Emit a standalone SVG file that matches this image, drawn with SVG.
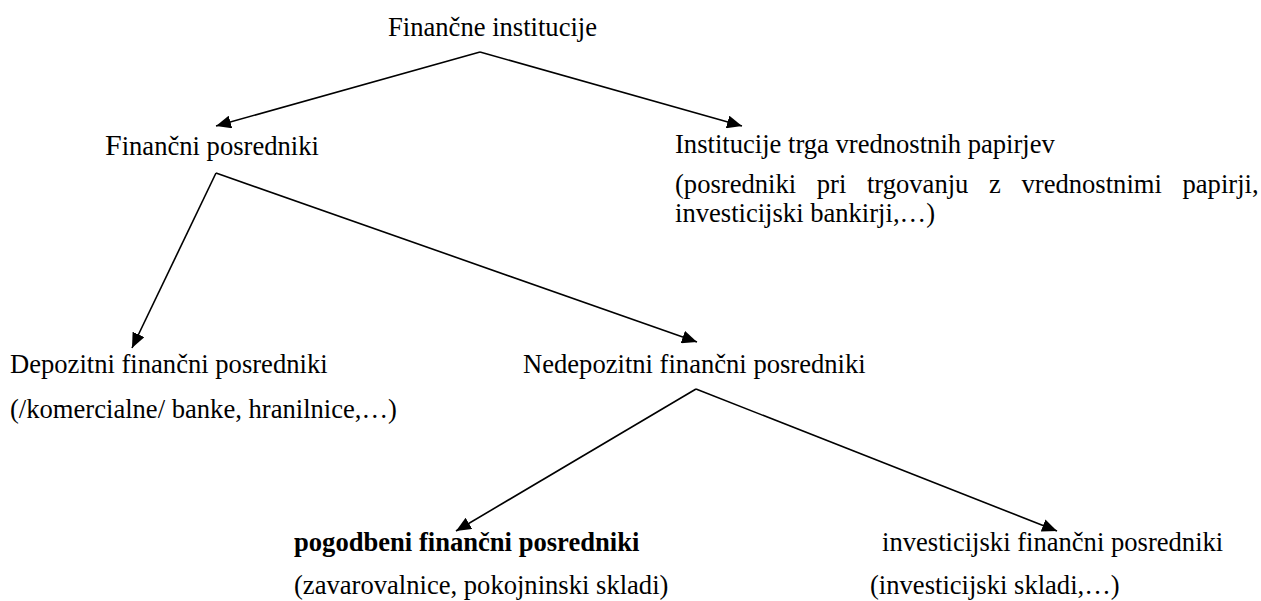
<svg xmlns="http://www.w3.org/2000/svg" width="1261" height="601" viewBox="0 0 1261 601">
<defs>
<style>
text{font-family:"Liberation Serif","Times New Roman",serif;font-size:26.6px;fill:#000}
.b{font-weight:bold}
.edge{stroke:#000;stroke-width:1.6;fill:none}
</style>
<marker id="ah" markerUnits="userSpaceOnUse" markerWidth="15" markerHeight="13" refX="15" refY="6.5" orient="auto">
<path d="M0,0 L15,6.5 L0,13 z" fill="#000"/>
</marker>
</defs>
<rect width="1261" height="601" fill="#fff"/>
<g id="connectors">
<line class="edge" x1="480" y1="52" x2="216" y2="126" marker-end="url(#ah)"/>
<line class="edge" x1="480" y1="52" x2="742" y2="126" marker-end="url(#ah)"/>
<line class="edge" x1="216" y1="173" x2="132" y2="348" marker-end="url(#ah)"/>
<line class="edge" x1="216" y1="173" x2="697" y2="342" marker-end="url(#ah)"/>
<line class="edge" x1="696" y1="389" x2="456" y2="531" marker-end="url(#ah)"/>
<line class="edge" x1="696" y1="389" x2="1057" y2="531" marker-end="url(#ah)"/>
</g>
<g id="n-financne-institucije"><text x="388" y="36">Finančne institucije</text></g>
<g id="n-financni-posredniki"><text x="105" y="155"><tspan style="font-size:30px">F</tspan>inančni posredniki</text></g>
<g id="n-institucije-trga">
<text x="675" y="153">Institucije trga vrednostnih papirjev</text>
<text x="675" y="193" word-spacing="14">(posredniki pri trgovanju z vrednostnimi papirji,</text>
<text x="675" y="222">investicijski bankirji,…)</text>
</g>
<g id="n-depozitni">
<text x="10" y="373">Depozitni finančni posredniki</text>
<text x="10" y="418">(/komercialne/ banke, hranilnice,…)</text>
</g>
<g id="n-nedepozitni"><text x="523" y="373">Nedepozitni finančni posredniki</text></g>
<g id="n-pogodbeni">
<text class="b" x="294" y="551">pogodbeni finančni posredniki</text>
<text x="294" y="594">(zavarovalnice, pokojninski skladi)</text>
</g>
<g id="n-investicijski">
<text x="882" y="551">investicijski finančni posredniki</text>
<text x="870" y="594">(investicijski skladi,…)</text>
</g>
</svg>
